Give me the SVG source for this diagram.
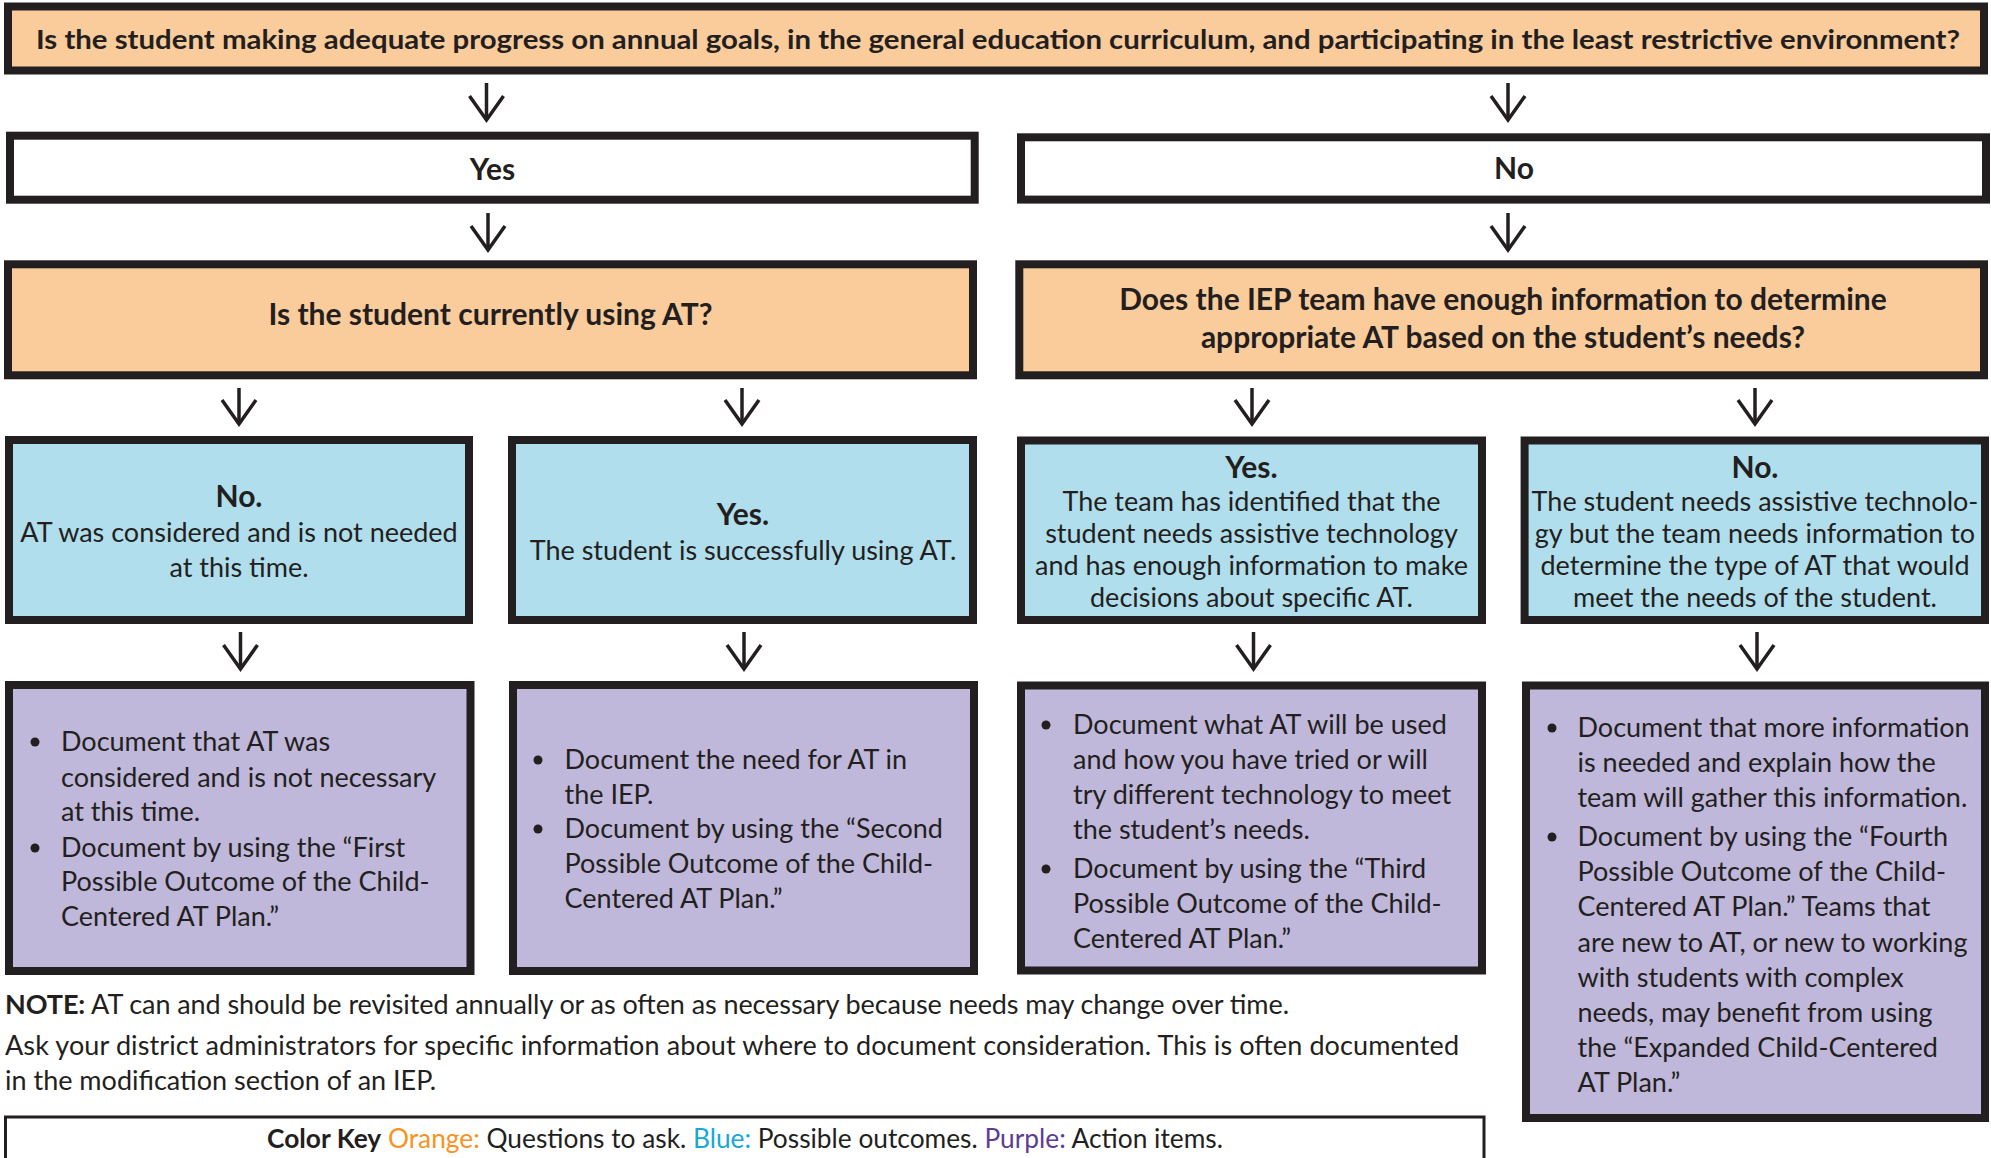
<svg xmlns="http://www.w3.org/2000/svg" width="1991" height="1158" viewBox="0 0 1991 1158">
<defs>
<style>
.box{stroke:#231f20;stroke-width:8}
.q{fill:#facc9c}
.w{fill:#ffffff}
.b{fill:#b0deec}
.p{fill:#bfb8da}
.t{font-family:Lato,"Open Sans","Liberation Sans",sans-serif;fill:#231f20;font-size:27px}
.tb{font-weight:bold}
.h{font-size:30px}
.k{font-size:26.3px}
.c{text-anchor:middle}
.con{stroke:#231f20;stroke-width:3.5;fill:none}
.dot{fill:#231f20}
</style>
<marker id="ah" markerUnits="userSpaceOnUse" markerWidth="34" markerHeight="44" viewBox="-28 -22 34 44" refX="0" refY="0" orient="auto">
<path d="M-24,-17 L0,0 L-24,17" fill="none" stroke="#231f20" stroke-width="3.5"/>
</marker>
</defs>
<rect width="1991" height="1158" fill="#ffffff"/>
<g id="connectors">
<line class="con" x1="486.5" y1="83" x2="486.5" y2="120" marker-end="url(#ah)"/>
<line class="con" x1="1508" y1="83" x2="1508" y2="120" marker-end="url(#ah)"/>
<line class="con" x1="488" y1="213" x2="488" y2="250" marker-end="url(#ah)"/>
<line class="con" x1="1508" y1="213" x2="1508" y2="250" marker-end="url(#ah)"/>
<line class="con" x1="239" y1="388" x2="239" y2="424" marker-end="url(#ah)"/>
<line class="con" x1="742" y1="388" x2="742" y2="424" marker-end="url(#ah)"/>
<line class="con" x1="1252" y1="388" x2="1252" y2="424" marker-end="url(#ah)"/>
<line class="con" x1="1755" y1="388" x2="1755" y2="424" marker-end="url(#ah)"/>
<line class="con" x1="240.5" y1="632" x2="240.5" y2="669" marker-end="url(#ah)"/>
<line class="con" x1="744" y1="632" x2="744" y2="669" marker-end="url(#ah)"/>
<line class="con" x1="1253.5" y1="632" x2="1253.5" y2="669" marker-end="url(#ah)"/>
<line class="con" x1="1757" y1="632" x2="1757" y2="669" marker-end="url(#ah)"/>
</g>
<g id="q-main">
<rect class="box q" x="8" y="6.5" width="1976" height="64"/>
<text class="t tb c" x="998" y="48.5" textLength="1924" lengthAdjust="spacingAndGlyphs">Is the student making adequate progress on annual goals, in the general education curriculum, and participating in the least restrictive environment?</text>
</g>
<g id="yes">
<rect class="box w" x="10" y="135.7" width="964.7" height="64"/>
<text class="t tb h c" x="492.5" y="180">Yes</text>
</g>
<g id="no">
<rect class="box w" x="1021" y="137.3" width="965" height="62.3"/>
<text class="t tb h c" x="1514" y="178.5">No</text>
</g>
<g id="q-using">
<rect class="box q" x="8" y="264.3" width="965" height="111"/>
<text class="t tb h c" x="490.5" y="325">Is the student currently using AT?</text>
</g>
<g id="q-info">
<rect class="box q" x="1019.3" y="264.3" width="964.7" height="111"/>
<text class="t tb h c" x="1503" y="310">Does the IEP team have enough information to determine</text>
<text class="t tb h c" x="1503" y="348">appropriate AT based on the student’s needs?</text>
</g>
<g id="o1">
<rect class="box b" x="9" y="440" width="460" height="180"/>
<text class="t tb h c" x="239" y="507">No.</text>
<text class="t c" x="239" y="542">AT was considered and is not needed</text>
<text class="t c" x="239" y="577">at this time.</text>
</g>
<g id="o2">
<rect class="box b" x="512" y="440" width="461" height="180"/>
<text class="t tb h c" x="743" y="525">Yes.</text>
<text class="t c" x="743" y="560">The student is successfully using AT.</text>
</g>
<g id="o3">
<rect class="box b" x="1021" y="440.5" width="461" height="179.5"/>
<text class="t tb h c" x="1251.5" y="478">Yes.</text>
<text class="t c" x="1251.5" y="511">The team has identified that the</text>
<text class="t c" x="1251.5" y="543">student needs assistive technology</text>
<text class="t c" x="1251.5" y="575">and has enough information to make</text>
<text class="t c" x="1251.5" y="607">decisions about specific AT.</text>
</g>
<g id="o4">
<rect class="box b" x="1524.6" y="440.5" width="460.4" height="179.5"/>
<text class="t tb h c" x="1755" y="478">No.</text>
<text class="t c" x="1755" y="511">The student needs assistive technolo-</text>
<text class="t c" x="1755" y="543">gy but the team needs information to</text>
<text class="t c" x="1755" y="575">determine the type of AT that would</text>
<text class="t c" x="1755" y="607">meet the needs of the student.</text>
</g>
<g id="a1">
<rect class="box p" x="9" y="685" width="461.5" height="286"/>
<circle class="dot" cx="35" cy="742" r="4.5"/>
<circle class="dot" cx="35" cy="848" r="4.5"/>
<text class="t" x="61" y="751">Document that AT was</text>
<text class="t" x="61" y="787">considered and is not necessary</text>
<text class="t" x="61" y="821">at this time.</text>
<text class="t" x="61" y="857">Document by using the “First</text>
<text class="t" x="61" y="891">Possible Outcome of the Child-</text>
<text class="t" x="61" y="926">Centered AT Plan.”</text>
</g>
<g id="a2">
<rect class="box p" x="513" y="685" width="461" height="286"/>
<circle class="dot" cx="538" cy="760" r="4.5"/>
<circle class="dot" cx="538" cy="829" r="4.5"/>
<text class="t" x="564.5" y="769">Document the need for AT in</text>
<text class="t" x="564.5" y="803.5">the IEP.</text>
<text class="t" x="564.5" y="838">Document by using the “Second</text>
<text class="t" x="564.5" y="873">Possible Outcome of the Child-</text>
<text class="t" x="564.5" y="908">Centered AT Plan.”</text>
</g>
<g id="a3">
<rect class="box p" x="1021" y="685.5" width="461" height="285"/>
<circle class="dot" cx="1046" cy="725" r="4.5"/>
<circle class="dot" cx="1046" cy="869" r="4.5"/>
<text class="t" x="1073" y="734">Document what AT will be used</text>
<text class="t" x="1073" y="769">and how you have tried or will</text>
<text class="t" x="1073" y="804">try different technology to meet</text>
<text class="t" x="1073" y="839">the student’s needs.</text>
<text class="t" x="1073" y="878">Document by using the “Third</text>
<text class="t" x="1073" y="913">Possible Outcome of the Child-</text>
<text class="t" x="1073" y="948">Centered AT Plan.”</text>
</g>
<g id="a4">
<rect class="box p" x="1526" y="685.5" width="459" height="432.5"/>
<circle class="dot" cx="1552" cy="728" r="4.5"/>
<circle class="dot" cx="1552" cy="837" r="4.5"/>
<text class="t" x="1577.5" y="737">Document that more information</text>
<text class="t" x="1577.5" y="772">is needed and explain how the</text>
<text class="t" x="1577.5" y="807">team will gather this information.</text>
<text class="t" x="1577.5" y="846">Document by using the “Fourth</text>
<text class="t" x="1577.5" y="881">Possible Outcome of the Child-</text>
<text class="t" x="1577.5" y="916">Centered AT Plan.” Teams that</text>
<text class="t" x="1577.5" y="952">are new to AT, or new to working</text>
<text class="t" x="1577.5" y="987">with students with complex</text>
<text class="t" x="1577.5" y="1022">needs, may benefit from using</text>
<text class="t" x="1577.5" y="1057">the “Expanded Child-Centered</text>
<text class="t" x="1577.5" y="1092">AT Plan.”</text>
</g>
<g id="notes">
<text class="t" x="5" y="1014" textLength="1284"><tspan class="tb">NOTE:</tspan> AT can and should be revisited annually or as often as necessary because needs may change over time.</text>
<text class="t" x="5" y="1055" textLength="1454">Ask your district administrators for specific information about where to document consideration. This is often documented</text>
<text class="t" x="5" y="1090">in the modification section of an IEP.</text>
</g>
<g id="key">
<rect x="5.5" y="1117" width="1478.5" height="60" fill="#ffffff" stroke="#231f20" stroke-width="3"/>
<text class="t k c" x="745" y="1148"><tspan class="tb">Color Key</tspan> <tspan fill="#f7931e">Orange:</tspan> Questions to ask. <tspan fill="#17a8d8">Blue:</tspan> Possible outcomes. <tspan fill="#5c3c96">Purple:</tspan> Action items.</text>
</g>
</svg>
